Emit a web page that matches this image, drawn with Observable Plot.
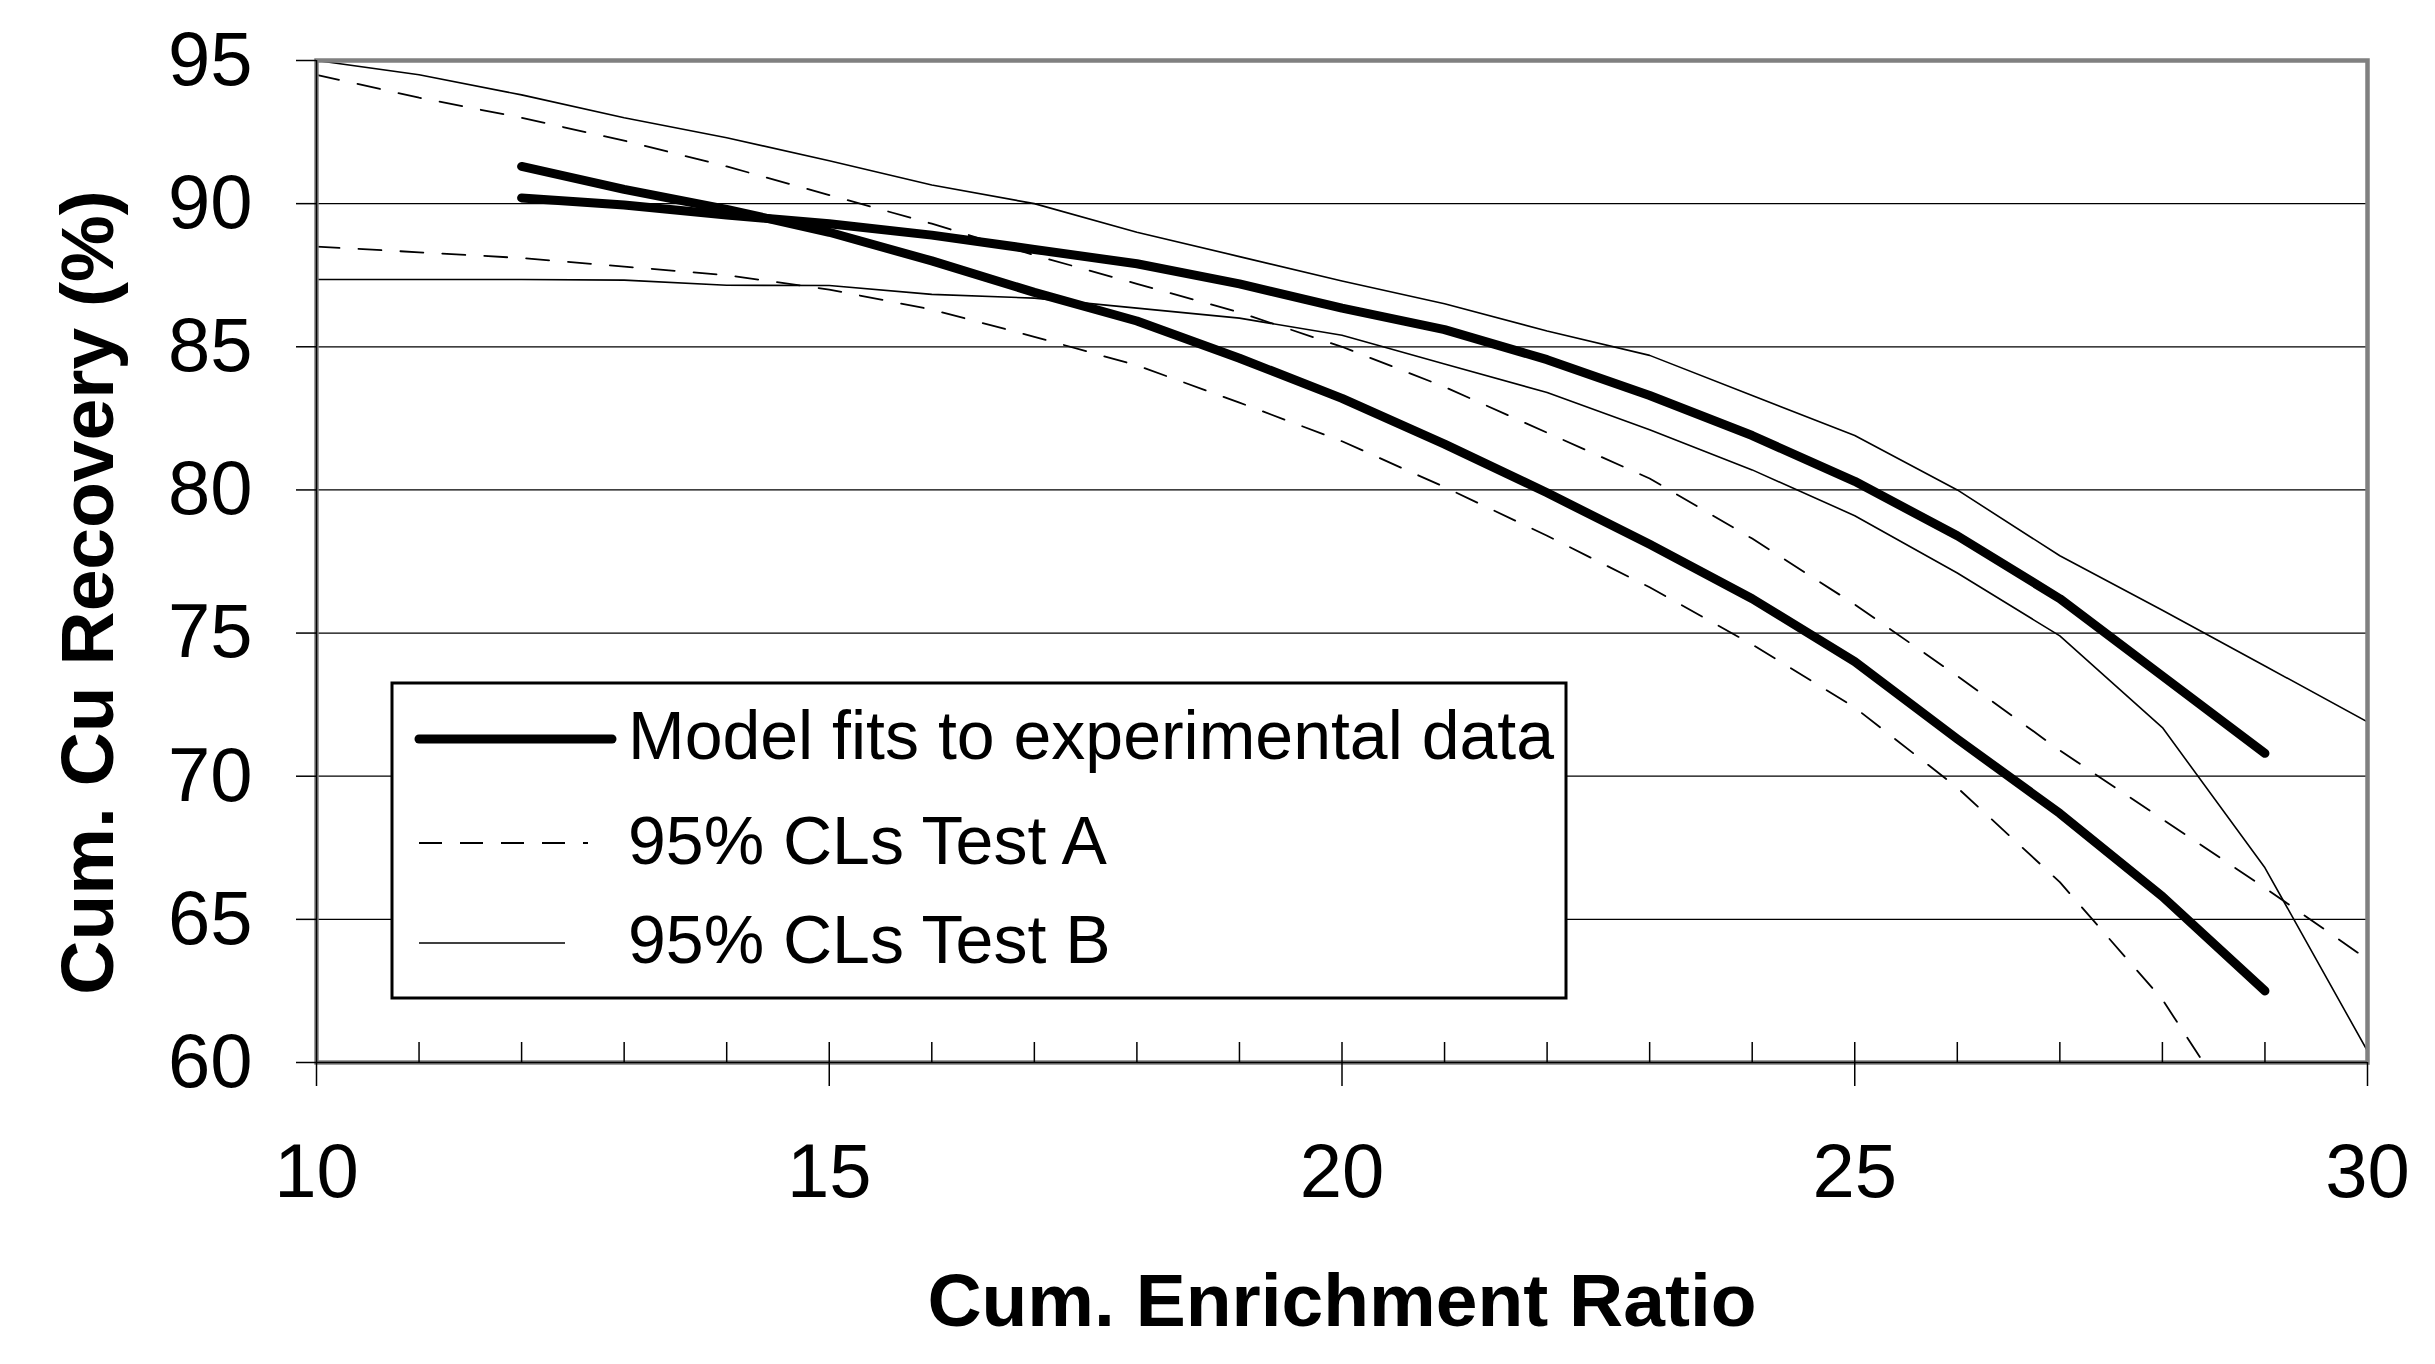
<!DOCTYPE html>
<html>
<head>
<meta charset="utf-8">
<script src="https://cdn.jsdelivr.net/npm/d3@7"></script>
<script src="https://cdn.jsdelivr.net/npm/@observablehq/plot@0.6"></script>
<style>
  html, body { margin: 0; padding: 0; background: #fff; }
  #wrap { position: relative; width: 2435px; height: 1364px; overflow: hidden; }
  #legend { position: absolute; left: 0; top: 0; }
</style>
</head>
<body>
<div id="wrap"></div>
<script>
// ---- data ----
const enrichment = [10, 11, 12, 13, 14, 15, 16, 17, 18, 19, 20, 21, 22, 23, 24, 25, 26, 27, 28, 29, 30];

// Model fits to experimental data (two curves)
const fitSteep = [null, null, 91.3, 90.5, 89.8, 89.0, 88.0, 86.9, 85.9, 84.6, 83.2, 81.6, 79.9, 78.1, 76.2, 74.0, 71.3, 68.7, 65.8, 62.5, null];
const fitFlat  = [null, null, 90.2, 89.95, 89.6, 89.3, 88.9, 88.4, 87.9, 87.2, 86.35, 85.6, 84.55, 83.3, 81.9, 80.3, 78.4, 76.2, 73.5, 70.8, null];

// 95% confidence limits, Test A (dashed)
const testAUpper = [94.5, 93.7, 93.0, 92.2, 91.3, 90.3, 89.3, 88.2, 87.2, 86.2, 85.0, 83.6, 82.0, 80.4, 78.3, 76.0, 73.5, 70.9, 68.5, 66.1, 63.6];
const testALower = [88.5, 88.3, 88.1, 87.8, 87.5, 87.0, 86.3, 85.35, 84.35, 83.05, 81.7, 80.1, 78.4, 76.6, 74.6, 72.4, 69.6, 66.3, 62.2, 56.7, null];

// 95% confidence limits, Test B (thin solid)
const testBUpper = [95.0, 94.5, 93.8, 93.0, 92.3, 91.5, 90.65, 90.0, 89.0, 88.15, 87.3, 86.5, 85.55, 84.7, 83.3, 81.9, 80.0, 77.7, 75.8, 73.85, 71.9];
const testBLower = [87.35, 87.35, 87.35, 87.33, 87.15, 87.14, 86.83, 86.7, 86.35, 86.0, 85.4, 84.4, 83.4, 82.1, 80.7, 79.1, 77.1, 74.9, 71.7, 66.8, 60.4];

const yTicks = [60, 65, 70, 75, 80, 85, 90, 95];
const xMajorTicks = [10, 15, 20, 25, 30];
const xMinorTicks = [11, 12, 13, 14, 15, 16, 17, 18, 19, 20, 21, 22, 23, 24, 25, 26, 27, 28, 29];

const legendItems = ["Model fits to experimental data", "95% CLs Test A", "95% CLs Test B"];
const xTitle = "Cum. Enrichment Ratio";
const yTitle = "Cum. Cu Recovery (%)";

// ---- helpers ----
const rows = arr => arr.map((v, i) => ({x: enrichment[i], y: v})).filter(d => d.y != null);
const FONT = "'Liberation Sans', Arial, Helvetica, sans-serif";

const thick = {x: "x", y: "y", stroke: "#000", strokeWidth: 9, strokeLinecap: "round", strokeLinejoin: "round", clip: true};
const dashed = {x: "x", y: "y", stroke: "#000", strokeWidth: 1.8, strokeDasharray: "23,19", clip: true};
const thin = {x: "x", y: "y", stroke: "#000", strokeWidth: 1.6, clip: true};

const chart = Plot.plot({
  width: 2435,
  height: 1364,
  marginLeft: 316,
  marginRight: 68,
  marginTop: 60,
  marginBottom: 302,
  x: {domain: [10, 30]},
  y: {domain: [60, 95]},
  style: {fontFamily: FONT, fontSize: "76px", color: "#000", background: "#fff"},
  marks: [
    Plot.gridY(yTicks.filter(d => d > 60 && d < 95), {stroke: "#000", strokeOpacity: 1, strokeWidth: 1.2}),
    Plot.line(rows(testBUpper), thin),
    Plot.line(rows(testBLower), thin),
    Plot.line(rows(testAUpper), dashed),
    Plot.line(rows(testALower), dashed),
    Plot.line(rows(fitFlat), thick),
    Plot.line(rows(fitSteep), thick),
    Plot.frame({stroke: "#808080", strokeWidth: 4.5}),
    Plot.ruleX([10], {stroke: "#000", strokeWidth: 1.5}),
    Plot.ruleY([60], {stroke: "#000", strokeWidth: 1.5}),
    // minor x ticks pointing inward
    Plot.ruleX(xMinorTicks, {x: d => d, y1: 60, y2: 60, insetTop: 0, insetBottom: 20, stroke: "#000", strokeWidth: 1.5}),
    Plot.axisY({ticks: yTicks, tickSize: 20, tickPadding: 44, label: null, fontSize: 76, strokeWidth: 1.5}),
    Plot.axisX({ticks: xMajorTicks, tickSize: 24, tickPadding: 57, label: null, fontSize: 76, strokeWidth: 1.5}),
    Plot.text([xTitle], {frameAnchor: "bottom", textAnchor: "middle", lineAnchor: "middle", dy: 239, fontSize: 75, fontWeight: "bold", fill: "#000"}),
    Plot.text([yTitle], {frameAnchor: "left", textAnchor: "middle", lineAnchor: "middle", rotate: -90, dx: -228, dy: 31, fontSize: 75, fontWeight: "bold", fill: "#000"})
  ]
});

const wrap = document.getElementById("wrap");
wrap.appendChild(chart);

// ---- legend (drawn over the plot area, like the original) ----
const leg = d3.select(wrap).append("svg")
  .attr("id", "legend")
  .attr("width", 2435).attr("height", 1364)
  .style("position", "absolute").style("left", "0px").style("top", "0px");

leg.append("rect")
  .attr("x", 392).attr("y", 683).attr("width", 1174).attr("height", 315)
  .attr("fill", "#fff").attr("stroke", "#000").attr("stroke-width", 3);

const sampleY = [739, 843, 943];
const sampleX2 = [612, 588, 565];
const sampleStyles = [
  {w: 9, dash: null, cap: "round"},
  {w: 1.8, dash: "23,18", cap: "butt"},
  {w: 1.6, dash: null, cap: "butt"}
];
legendItems.forEach((label, i) => {
  const s = sampleStyles[i];
  const ln = leg.append("line")
    .attr("x1", 419).attr("x2", sampleX2[i])
    .attr("y1", sampleY[i]).attr("y2", sampleY[i])
    .attr("stroke", "#000").attr("stroke-width", s.w)
    .attr("stroke-linecap", s.cap);
  if (s.dash) ln.attr("stroke-dasharray", s.dash);
  leg.append("text")
    .attr("x", 628).attr("y", [759, 864, 963][i])
    .attr("font-family", FONT).attr("font-size", 68)
    .attr("fill", "#000")
    .text(label);
});
</script>
</body>
</html>
